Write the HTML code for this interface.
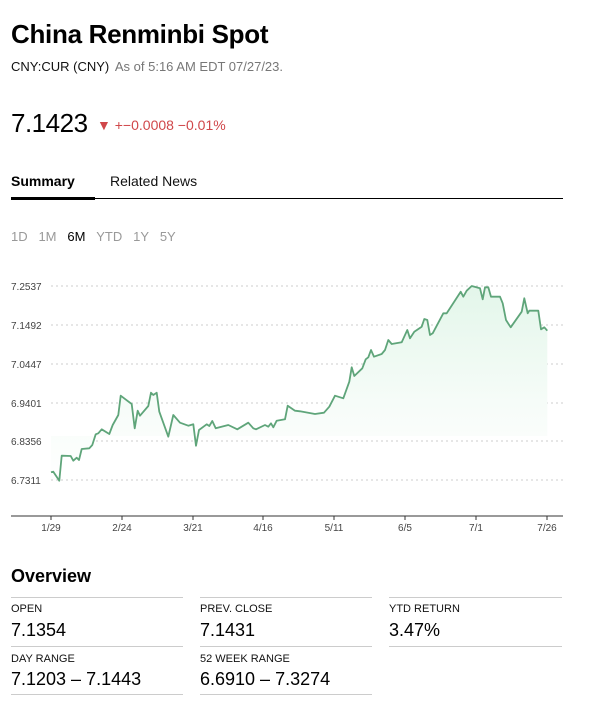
<!DOCTYPE html>
<html><head><meta charset="utf-8"><style>
body{margin:0;width:601px;height:708px;background:#fff;font-family:"Liberation Sans",sans-serif;color:#000;position:relative;overflow:hidden}
.a{position:absolute;white-space:nowrap}
.lbl{font-size:11px;color:#111}
.val{font-size:18px;color:#000}
.hl{position:absolute;height:1px;background:#ccc}
</style></head><body>
<div class="a" style="left:11px;top:19px;font-size:26px;font-weight:bold;letter-spacing:-0.3px">China Renminbi Spot</div>
<div class="a" style="left:11px;top:59px;font-size:13px"><span style="color:#111">CNY:CUR (CNY)</span> <span style="color:#777;margin-left:2px">As of 5:16 AM EDT 07/27/23.</span></div>
<div class="a" style="left:11px;top:108px;font-size:26px;letter-spacing:-0.5px">7.1423</div>
<div class="a" style="left:97px;top:117px;font-size:14px;color:#d0474a"><span style="font-size:14px">▼</span> +−0.0008 −0.01%</div>
<div class="a" style="left:11px;top:173px;font-size:14px;font-weight:bold">Summary</div>
<div class="a" style="left:110px;top:173px;font-size:14px;color:#111">Related News</div>
<div class="hl" style="left:11px;top:198px;width:552px;background:#000"></div>
<div class="hl" style="left:11px;top:197px;width:84px;height:3px;background:#000"></div>
<div class="a" style="left:11px;top:229px;font-size:13px;color:#999">1D&nbsp;&nbsp;&nbsp;1M&nbsp;&nbsp;&nbsp;<span style="color:#000">6M</span>&nbsp;&nbsp;&nbsp;YTD&nbsp;&nbsp;&nbsp;1Y&nbsp;&nbsp;&nbsp;5Y</div>
<svg class="a" style="left:0;top:0" width="601" height="560">
<defs><linearGradient id="g" x1="0" y1="0" x2="0" y2="1"><stop offset="0" stop-color="#e3f6ea"/><stop offset="0.6" stop-color="#f6fcf8"/><stop offset="1" stop-color="#fff"/></linearGradient></defs>
<g stroke="#ccc" stroke-dasharray="2,3" stroke-width="1">
<line x1="51" y1="286" x2="563" y2="286"/><line x1="51" y1="325" x2="563" y2="325"/><line x1="51" y1="364" x2="563" y2="364"/><line x1="51" y1="403" x2="563" y2="403"/><line x1="51" y1="441" x2="563" y2="441"/><line x1="51" y1="480" x2="563" y2="480"/></g>
<g font-size="10" fill="#444" font-family="Liberation Sans,sans-serif">
<text x="11" y="290">7.2537</text><text x="11" y="329">7.1492</text><text x="11" y="368">7.0447</text><text x="11" y="407">6.9401</text><text x="11" y="445">6.8356</text><text x="11" y="484">6.7311</text></g>
<polygon fill="url(#g)" points="51,472.3 53.3,471.7 59.3,480.7 61.7,455.7 70.7,456 73.3,460.7 76.7,457.7 79,460 81.7,449 89.3,448.3 92.3,445 95.7,434.3 98.3,433.3 101.7,429.3 109.3,434 112.7,425 118.3,415 120.7,395.7 131.7,404 134.7,428.3 137.7,410.7 140,415.7 148.3,406 151,392.7 153.3,395 156.7,392.7 159.3,411.7 168.3,436.7 173.3,415 180,422.7 188.3,425.7 193.3,424.3 196,445.7 199,430 206.7,424.3 209.3,426 212.3,421 215.7,428.3 228.3,425 237.3,429.3 248.3,422.7 253.3,428.3 256,429.3 265,425 268.3,426.7 271,423.3 273.3,427.3 276.7,420.7 285,419.3 287.7,405.7 295,410.7 300,411.3 315,414 324,412.7 329.3,406.7 335,395.7 343.3,398.3 349.3,381.7 351.7,367.3 354.3,376 362.3,368.3 365.7,359.3 368.3,357.3 371,350 374,356.7 381.7,354 385,350 388.3,340 391.7,344 401.7,342.3 407.3,330 410,338.3 414.3,331.7 421.7,326.7 424.3,319 427.3,320 430,335 432.7,333.3 443.3,313.3 446.7,313.3 460.7,291.7 463.3,296.7 466.7,290.7 471.7,286 480,288.3 482.7,299.3 485,287.3 488.3,287.3 491,296.7 500,296.7 502.7,303.3 506,320 510.7,327.3 521.7,311.7 524.3,298.3 527.7,313.3 529.3,310.7 538.3,310.7 541,329.3 544.3,327.3 547.3,330.7 547.3,436 51,436"/>
<polyline fill="none" stroke="#5fa57a" stroke-width="1.8" stroke-linejoin="round" points="51,472.3 53.3,471.7 59.3,480.7 61.7,455.7 70.7,456 73.3,460.7 76.7,457.7 79,460 81.7,449 89.3,448.3 92.3,445 95.7,434.3 98.3,433.3 101.7,429.3 109.3,434 112.7,425 118.3,415 120.7,395.7 131.7,404 134.7,428.3 137.7,410.7 140,415.7 148.3,406 151,392.7 153.3,395 156.7,392.7 159.3,411.7 168.3,436.7 173.3,415 180,422.7 188.3,425.7 193.3,424.3 196,445.7 199,430 206.7,424.3 209.3,426 212.3,421 215.7,428.3 228.3,425 237.3,429.3 248.3,422.7 253.3,428.3 256,429.3 265,425 268.3,426.7 271,423.3 273.3,427.3 276.7,420.7 285,419.3 287.7,405.7 295,410.7 300,411.3 315,414 324,412.7 329.3,406.7 335,395.7 343.3,398.3 349.3,381.7 351.7,367.3 354.3,376 362.3,368.3 365.7,359.3 368.3,357.3 371,350 374,356.7 381.7,354 385,350 388.3,340 391.7,344 401.7,342.3 407.3,330 410,338.3 414.3,331.7 421.7,326.7 424.3,319 427.3,320 430,335 432.7,333.3 443.3,313.3 446.7,313.3 460.7,291.7 463.3,296.7 466.7,290.7 471.7,286 480,288.3 482.7,299.3 485,287.3 488.3,287.3 491,296.7 500,296.7 502.7,303.3 506,320 510.7,327.3 521.7,311.7 524.3,298.3 527.7,313.3 529.3,310.7 538.3,310.7 541,329.3 544.3,327.3 547.3,330.7"/>
<line x1="11" y1="516" x2="563" y2="516" stroke="#333" stroke-width="1"/>
<g stroke="#333"><line x1="51" y1="516" x2="51" y2="520"/><line x1="122" y1="516" x2="122" y2="520"/><line x1="193" y1="516" x2="193" y2="520"/><line x1="263" y1="516" x2="263" y2="520"/><line x1="334" y1="516" x2="334" y2="520"/><line x1="405" y1="516" x2="405" y2="520"/><line x1="476" y1="516" x2="476" y2="520"/><line x1="547" y1="516" x2="547" y2="520"/></g>
<g font-size="10" fill="#444" text-anchor="middle" font-family="Liberation Sans,sans-serif">
<text x="51" y="531">1/29</text><text x="122" y="531">2/24</text><text x="193" y="531">3/21</text><text x="263" y="531">4/16</text><text x="334" y="531">5/11</text><text x="405" y="531">6/5</text><text x="476" y="531">7/1</text><text x="547" y="531">7/26</text></g>
</svg>
<div class="a" style="left:11px;top:566px;font-size:18px;font-weight:bold">Overview</div>
<div class="hl" style="left:11px;top:597px;width:172px"></div>
<div class="hl" style="left:200px;top:597px;width:172px"></div>
<div class="hl" style="left:389px;top:597px;width:173px"></div>
<div class="a lbl" style="left:11px;top:603px">OPEN</div>
<div class="a val" style="left:11px;top:620px">7.1354</div>
<div class="a lbl" style="left:200px;top:603px">PREV. CLOSE</div>
<div class="a val" style="left:200px;top:620px">7.1431</div>
<div class="a lbl" style="left:389px;top:603px">YTD RETURN</div>
<div class="a val" style="left:389px;top:620px">3.47%</div>
<div class="hl" style="left:11px;top:646px;width:172px"></div>
<div class="hl" style="left:200px;top:646px;width:172px"></div>
<div class="hl" style="left:389px;top:646px;width:173px"></div>
<div class="a lbl" style="left:11px;top:653px">DAY RANGE</div>
<div class="a val" style="left:11px;top:669px">7.1203 – 7.1443</div>
<div class="a lbl" style="left:200px;top:653px">52 WEEK RANGE</div>
<div class="a val" style="left:200px;top:669px">6.6910 – 7.3274</div>
<div class="hl" style="left:11px;top:694px;width:172px"></div>
<div class="hl" style="left:200px;top:694px;width:172px"></div>
</body></html>
